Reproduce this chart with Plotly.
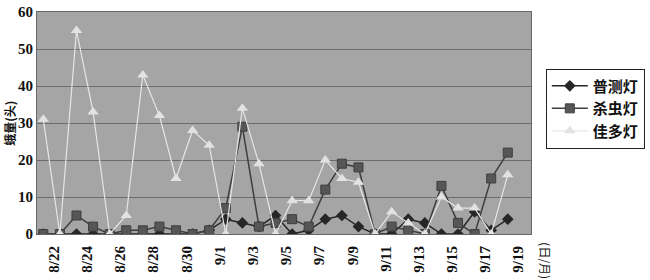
import plotly.graph_objects as go

dates = ["8/22", "8/23", "8/24", "8/25", "8/26", "8/27", "8/28", "8/29", "8/30", "8/31",
         "9/1", "9/2", "9/3", "9/4", "9/5", "9/6", "9/7", "9/8", "9/9", "9/10",
         "9/11", "9/12", "9/13", "9/14", "9/15", "9/16", "9/17", "9/18", "9/19"]
putce = [0, 0, 0, 0, 0, 0, 0, 0, 0, 0,
         1, 4, 3, 2, 5, 0, 1, 4, 5, 2,
         0, 0, 4, 3, 0, 0, 6, 1, 4]
shachong = [0, 0, 5, 2, 0, 1, 1, 2, 1, 0,
            1, 7, 29, 2, 3, 4, 2, 12, 19, 18,
            0, 2, 1, 0, 13, 3, 0, 15, 22]
jiaduo = [31, 0, 55, 33, 0, 5, 43, 32, 15, 28,
          24, 0, 34, 19, 0, 9, 9, 20, 15, 14,
          0, 6, 3, 0, 10, 7, 7, 0, 16]
tick_labels = ["8/22", "8/24", "8/26", "8/28", "8/30", "9/1", "9/3", "9/5",
               "9/7", "9/9", "9/11", "9/13", "9/15", "9/17", "9/19"]
y_ticks = [0, 10, 20, 30, 40, 50, 60]

x = list(range(len(dates)))
serif = "Liberation Serif"
cjk = "Noto Sans CJK SC"

fig = go.Figure()
fig.add_trace(go.Scatter(
    x=x, y=putce, name="普测灯", mode="lines+markers", legendgroup="a",
    line=dict(color="#262626", width=1.5),
    marker=dict(symbol="diamond", size=9, color="#262626")))
fig.add_trace(go.Scatter(
    x=x, y=shachong, name="杀虫灯", mode="lines+markers", legendgroup="b",
    line=dict(color="#3e3e3e", width=1.5),
    marker=dict(symbol="square", size=9, color="#565656",
                line=dict(color="#3e3e3e", width=1))))
fig.add_trace(go.Scatter(
    x=x, y=jiaduo, name="佳多灯", mode="lines+markers", legendgroup="c",
    line=dict(color="#e6e6e6", width=1.2),
    marker=dict(symbol="triangle-up", size=10, color="#e2e2e2")))

fig.update_layout(
    width=650, height=280,
    margin=dict(l=37, r=119, t=4, b=46),
    paper_bgcolor="white",
    plot_bgcolor="#a5a5a5",
    showlegend=True,
    legend=dict(
        x=1.03, y=0.745, xanchor="left", yanchor="top",
        bgcolor="white", bordercolor="#222222", borderwidth=1,
        font=dict(family=cjk, size=15, color="#111111", weight="bold"),
        tracegroupgap=17, itemwidth=36, traceorder="normal"),
    xaxis=dict(
        range=[-0.38, 29.4], showgrid=False, zeroline=False,
        tickmode="array",
        tickvals=[dates.index(t) + 0.65 for t in tick_labels],
        ticktext=tick_labels, tickangle=-90,
        ticks="outside", ticklen=5, tickcolor="rgba(0,0,0,0)",
        tickfont=dict(family=serif, size=15, color="#111111", weight="bold"),
        showline=True, linecolor="#666666", linewidth=1, mirror=True),
    yaxis=dict(
        range=[0, 60], tickmode="array", tickvals=y_ticks,
        showgrid=True, gridcolor="#6c6c6c", gridwidth=1, zeroline=False,
        ticks="", ticklen=0, ticklabeloverflow="allow",
        tickfont=dict(family=serif, size=15, color="#111111", weight="bold"),
        showline=True, linecolor="#666666", linewidth=1, mirror=True),
    annotations=[
        dict(text="蛾量(头)", xref="paper", yref="paper", x=-0.057, y=0.5,
             xanchor="center", yanchor="middle", textangle=-90, showarrow=False,
             font=dict(family=cjk, size=12, color="#111111", weight="bold")),
        dict(text="(日/月)", xref="paper", yref="paper", x=1.03, y=-0.03,
             xanchor="center", yanchor="top", textangle=90, showarrow=False,
             font=dict(family=cjk, size=12, color="#111111"))
    ])

fig.write_html("out.html")
